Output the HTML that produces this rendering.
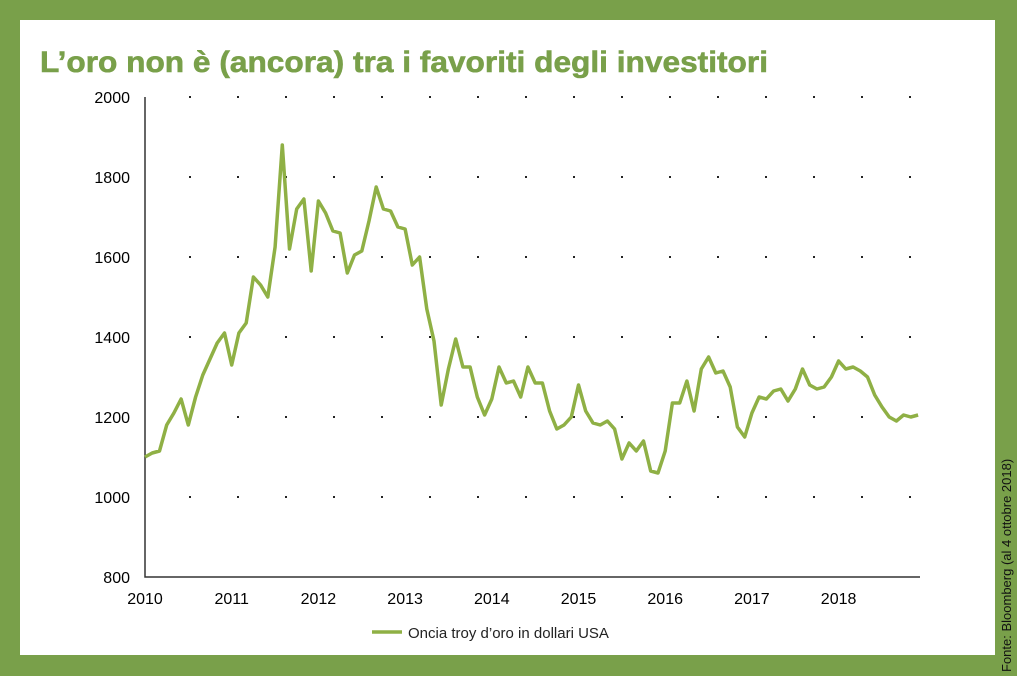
<!DOCTYPE html>
<html><head><meta charset="utf-8"><style>
html,body{margin:0;padding:0;background:#79a04a;}
svg{display:block;font-family:"Liberation Sans",sans-serif;}
</style></head><body>
<svg width="1017" height="676" viewBox="0 0 1017 676">
<rect x="0" y="0" width="1017" height="676" fill="#79a04a"/>
<rect x="20" y="20" width="975" height="635" fill="#fff"/>
<text x="40" y="72" font-size="30" font-weight="bold" fill="#79a04a" stroke="#79a04a" stroke-width="0.6" textLength="728" lengthAdjust="spacingAndGlyphs">L’oro non è (ancora) tra i favoriti degli investitori</text>
<g id="grid"></g>
<g id="axes"></g>
<path id="line" fill="none" stroke="#8fb045" stroke-width="3.5" stroke-linejoin="round"/>
<line x1="372" y1="632" x2="402" y2="632" stroke="#8fb045" stroke-width="3.5"/>
<text x="408" y="638" font-size="15" fill="#222">Oncia troy d’oro in dollari USA</text>
<text transform="translate(1011,672) rotate(-90)" font-size="13" fill="#111">Fonte: Bloomberg (al 4 ottobre 2018)</text>
</svg>
<script>
const years = [2010,2011,2012,2013,2014,2015,2016,2017,2018];
const yTicks = [800,1000,1200,1400,1600,1800,2000];
const startYear = 2010;
const prices = [
1100,1110,1115,1180,1210,1245,1180,1250,1305,1345,1385,1410,
1330,1410,1435,1550,1530,1500,1625,1880,1620,1720,1745,1565,
1740,1710,1665,1660,1560,1605,1615,1690,1775,1720,1715,1675,
1670,1580,1600,1470,1390,1230,1320,1395,1325,1325,1250,1205,
1245,1325,1285,1290,1250,1325,1285,1285,1215,1170,1180,1200,
1280,1215,1185,1180,1190,1170,1095,1135,1115,1140,1065,1060,
1115,1235,1235,1290,1215,1320,1350,1310,1315,1275,1175,1150,
1210,1250,1245,1265,1270,1240,1270,1320,1280,1270,1275,1300,
1340,1320,1325,1315,1300,1255,1225,1200,1190,1205,1200,1205
];
const NS="http://www.w3.org/2000/svg";
const x0=145,pxYear=86.7,yB=577,pxU=0.4;
const X=t=>x0+(t-startYear)*pxYear;
const Y=v=>yB-(v-800)*pxU;
const grid=document.getElementById('grid'),axes=document.getElementById('axes');
yTicks.forEach(v=>{
  const t=document.createElementNS(NS,'text');
  t.setAttribute('x',130);t.setAttribute('y',Y(v)+6);t.setAttribute('text-anchor','end');
  t.setAttribute('font-size','16');t.textContent=v;
  
  
  axes.appendChild(t);
  if(v>800){for(let gx=190;gx<=912;gx+=48){
    const c=document.createElementNS(NS,'rect');
    c.setAttribute('x',gx-1);c.setAttribute('y',Y(v)-1);c.setAttribute('width',2);c.setAttribute('height',2);c.setAttribute('fill','#222');
    
    
    grid.appendChild(c);}}
});
years.forEach(yr=>{
  const t=document.createElementNS(NS,'text');
  t.setAttribute('x',X(yr));t.setAttribute('y',604);t.setAttribute('text-anchor','middle');
  t.setAttribute('font-size','16');t.textContent=yr;
  
  
  axes.appendChild(t);
});
const ax=document.createElementNS(NS,'path');
ax.setAttribute('d',`M${x0} 97V${yB}H920`);ax.setAttribute('stroke','#333');ax.setAttribute('stroke-width','1.5');ax.setAttribute('fill','none');


axes.appendChild(ax);
let d='';
prices.forEach((p,i)=>{const t=startYear+i/12;d+=(i?'L':'M')+X(t).toFixed(1)+' '+Y(p).toFixed(1);});
document.getElementById('line').setAttribute('d',d);
</script>
</body></html>
